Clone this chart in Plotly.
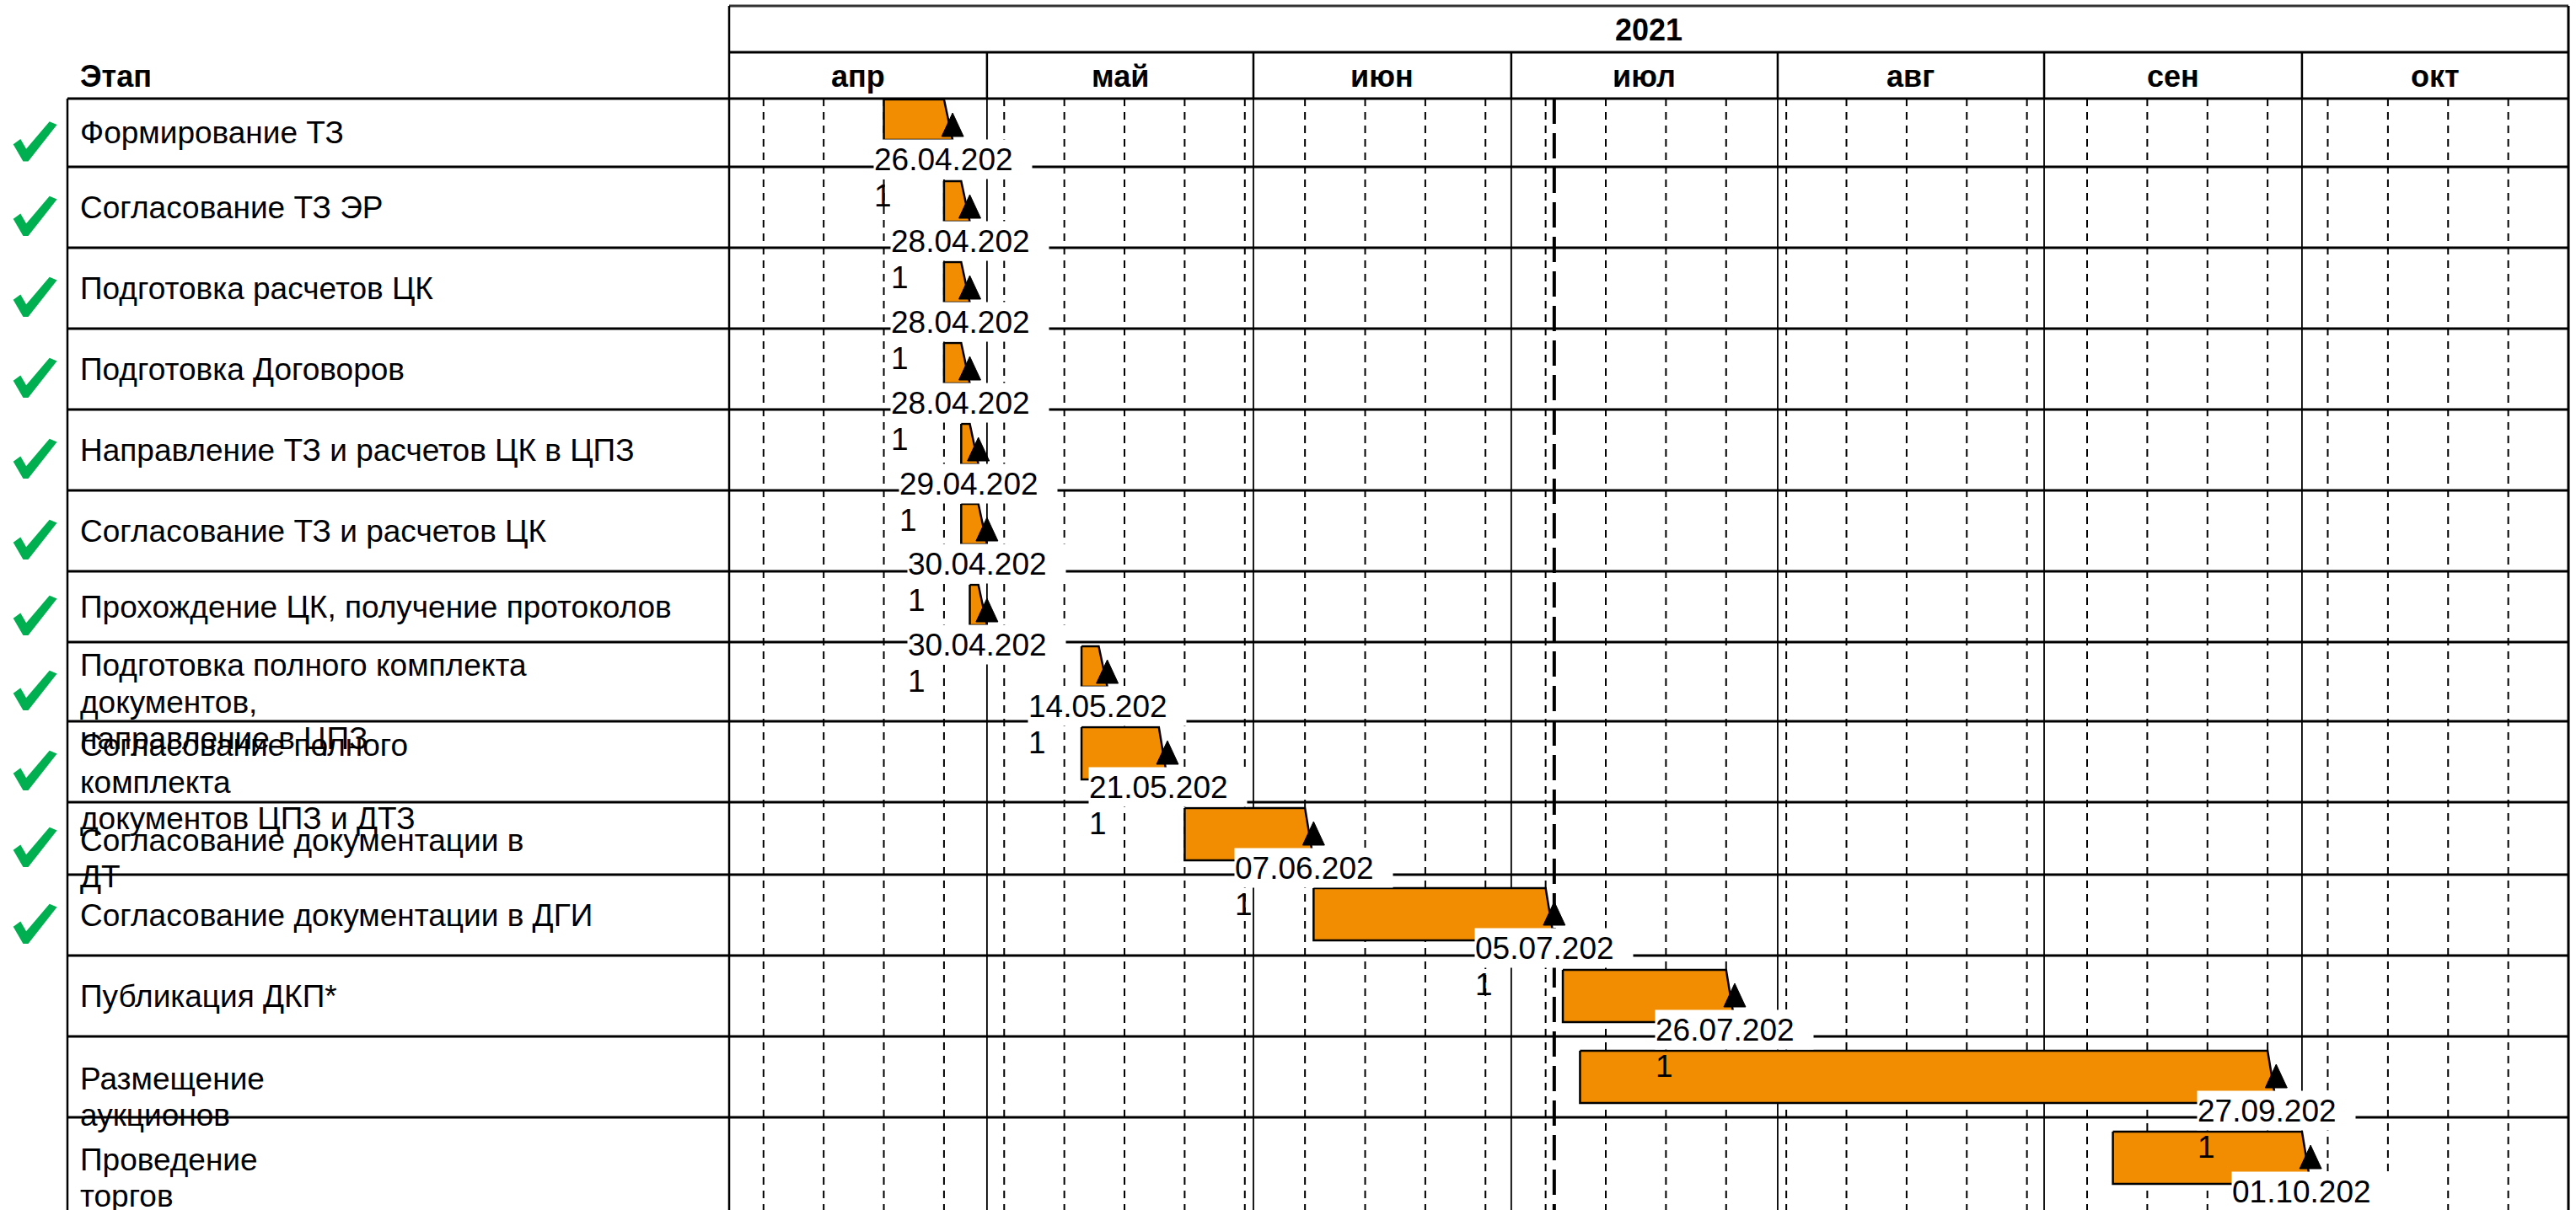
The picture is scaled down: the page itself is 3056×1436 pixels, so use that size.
import pandas as pd
import plotly.graph_objects as go

W, H = 3056, 1436
ORANGE = "#F28C00"
GREEN = "#00B050"
FONT = "Liberation Sans, Arial, sans-serif"

# ── data ────────────────────────────────────────────────────────────────────
tasks = [
    "Формирование ТЗ",
    "Согласование ТЗ ЭР",
    "Подготовка расчетов ЦК",
    "Подготовка Договоров",
    "Направление ТЗ и расчетов ЦК в ЦПЗ",
    "Согласование ТЗ и расчетов ЦК",
    "Прохождение ЦК, получение протоколов",
    "Подготовка полного комплекта\nдокументов,\nнаправление в ЦПЗ",
    "Согласование полного\nкомплекта\nдокументов ЦПЗ и ДТЗ",
    "Согласование документации в\nДТ",
    "Согласование документации в ДГИ",
    "Публикация ДКП*",
    "Размещение\nаукционов",
    "Проведение\nторгов",
]
starts = ["2021-04-19", "2021-04-26", "2021-04-26", "2021-04-26", "2021-04-28", "2021-04-28",
          "2021-04-29", "2021-05-12", "2021-05-12", "2021-05-24", "2021-06-08", "2021-07-07",
          "2021-07-09", "2021-09-09"]
ends = ["2021-04-26", "2021-04-28", "2021-04-28", "2021-04-28", "2021-04-29", "2021-04-30",
        "2021-04-30", "2021-05-14", "2021-05-21", "2021-06-07", "2021-07-05", "2021-07-26",
        "2021-09-27", "2021-10-01"]
done = [True, True, True, True, True, True, True, True, True, True, True, False, False, False]
months = ["апр", "май", "июн", "июл", "авг", "сен", "окт"]
year = "2021"
today = "2021-07-06"
t_start, t_end = "2021-04-01", "2021-11-01"

# ── layout (pixels from top / left) ─────────────────────────────────────────
X_TABLE, X_TL0, X_TL1 = 80, 865, 3047
Y_TOP, Y_MID, Y_HEAD = 7, 62, 117
ROW_EDGES = [117, 198, 294, 390, 486, 582, 678, 762, 856, 952, 1038, 1134, 1230, 1326, 1422]
BAR_TOPS = [118, 215, 311, 407, 503, 598, 694, 767, 863, 959, 1054, 1151, 1247, 1343]
BAR_H = [48] * 8 + [62] * 6
LINE_STEP = 43.5
# check mark outline, pixels relative to its top-left corner
CHECK = [(0, 26), (7, 21), (14, 33), (42, 0), (49, 3), (16, 45), (11, 45)]


def px(x):
    return x / W


starts_dt = pd.to_datetime(starts)
ends_dt = pd.to_datetime(ends)
end_of_day = ends_dt + pd.Timedelta(days=1)
month_starts = pd.date_range(t_start, t_end, freq="MS")

fig = go.Figure()

# bars: flat top ending at the end date, slanted to the end of that day
bx, by = [], []
for s, e, ee, top, h in zip(starts_dt, ends_dt, end_of_day, BAR_TOPS, BAR_H):
    bx += [s, e, ee, s, s, None]
    by += [top, top, top + h, top + h, top, None]
fig.add_trace(go.Scatter(x=bx, y=by, mode="lines", fill="toself", fillcolor=ORANGE,
                         line=dict(color="black", width=2.5), hoverinfo="skip"))

shapes = []


def hline(y, x0, x1, width=3, color="black"):
    shapes.append(dict(type="line", xref="paper", yref="y", x0=px(x0), x1=px(x1), y0=y, y1=y,
                       line=dict(color=color, width=width), layer="below"))


def vline(x, y0, y1, width=2, dash="solid", xref="paper"):
    shapes.append(dict(type="line", xref=xref, yref="y", x0=x, x1=x, y0=y0, y1=y1,
                       line=dict(color="black", width=width, dash=dash), layer="below"))


# weekly grid (Mondays)
for d in pd.date_range(t_start, t_end, freq="W-MON"):
    vline(d, Y_HEAD, H, width=2, dash="9px,7px", xref="x")
# month lines
for d in month_starts[1:-1]:
    vline(d, Y_MID, Y_HEAD, width=2.5, xref="x")
    vline(d, Y_HEAD, H, width=1.8, xref="x")
# today
vline(pd.Timestamp(today), Y_HEAD, H, width=4, dash="30px,11px", xref="x")

# table frame
hline(Y_TOP, X_TL0, X_TL1, color="#333333")
hline(Y_MID, X_TL0, X_TL1)
for y in ROW_EDGES[:-1]:
    hline(y, X_TABLE, X_TL1)
vline(px(X_TL0), Y_TOP, H, width=2.5)
vline(px(X_TL1), Y_TOP, H, width=3)
vline(px(X_TABLE), Y_HEAD, H, width=2.5)

# milestone triangles at the end of each task
for ee, top in zip(end_of_day, BAR_TOPS):
    shapes.append(dict(type="path", xref="x", yref="y", xsizemode="pixel", xanchor=ee,
                       path=f"M-13,{top + 44} L13,{top + 44} L0,{top + 16} Z",
                       fillcolor="black", line=dict(color="black", width=1), layer="above"))

annotations = []

# header texts
annotations.append(dict(text="<b>Этап</b>", xref="paper", x=px(93), xanchor="left", yref="y", y=90,
                        showarrow=False, font=dict(size=36)))
annotations.append(dict(text=f"<b>{year}</b>", xref="x domain", x=0.5, yref="y", y=35,
                        showarrow=False, font=dict(size=36)))
for name, m0, m1 in zip(months, month_starts[:-1], month_starts[1:]):
    annotations.append(dict(text=f"<b>{name}</b>", xref="x", x=m0 + (m1 - m0) / 2, yref="y", y=90,
                            showarrow=False, font=dict(size=36)))

# task names (overflowing lines spill into the next row) and check marks
for i, name in enumerate(tasks):
    center = (ROW_EDGES[i] + ROW_EDGES[i + 1]) / 2
    lines = name.split("\n")
    y0 = center if len(lines) == 1 else center + 24 - (len(lines) - 1) * LINE_STEP / 2
    for k, line in enumerate(lines):
        annotations.append(dict(text=line, xref="paper", x=px(93), xanchor="left", yref="y",
                                y=y0 + k * LINE_STEP, showarrow=False, font=dict(size=37)))
    if done[i]:
        top = center - 12
        path = "M" + " L".join(f"{px(17 + cx)},{top + cy}" for cx, cy in CHECK) + " Z"
        shapes.append(dict(type="path", xref="paper", yref="y", path=path, fillcolor=GREEN,
                           line=dict(color=GREEN, width=2)))

# end-date labels: white box one line tall, the last digit wraps below it
for ee, e, top in zip(end_of_day, ends_dt, BAR_TOPS):
    s = e.strftime("%d.%m.%Y")
    annotations.append(dict(text=s[:-1], xref="x", x=ee, yref="y", y=top + 71, width=187, height=46,
                            align="left", bgcolor="white", borderpad=0, showarrow=False,
                            font=dict(size=37)))
    annotations.append(dict(text=s[-1:], xref="x", x=ee, yref="y", y=top + 114, width=187,
                            align="left", borderpad=0, showarrow=False, font=dict(size=37)))

fig.update_layout(
    width=W, height=H, margin=dict(l=0, r=0, t=0, b=0),
    paper_bgcolor="white", plot_bgcolor="white", showlegend=False,
    font=dict(family=FONT, color="black"),
    xaxis=dict(type="date", range=[t_start, t_end], domain=[px(X_TL0), px(X_TL1)], visible=False),
    yaxis=dict(range=[H, 0], domain=[0, 1], visible=False),
    shapes=shapes, annotations=annotations,
)

fig.write_html("out.html", config={"displayModeBar": False},
               post_script="document.body.style.margin='0';")
